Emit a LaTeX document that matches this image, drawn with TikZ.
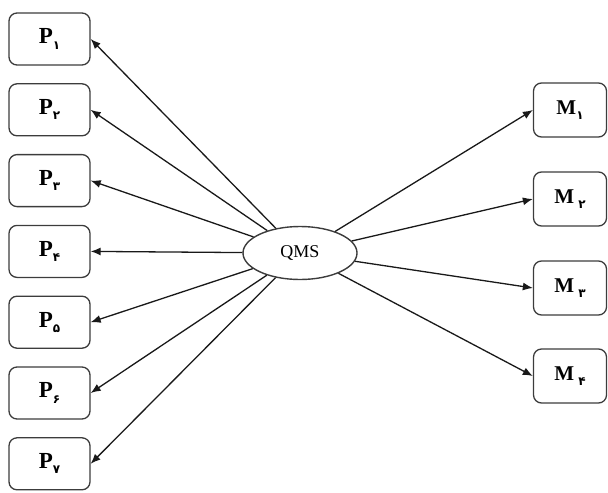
\documentclass[tikz,border=0pt]{standalone}
\usepackage{fontspec}
\setmainfont{Liberation Serif}
\newfontfamily\digitfont[Script=Arabic]{DejaVu Sans}
\usetikzlibrary{arrows.meta,shapes.geometric}
\definecolor{boxline}{HTML}{3C3C3C}
\tikzset{
  qms box/.style={draw=boxline,line width=.65pt,rounded corners=4pt,minimum width=40.5pt,minimum height=26pt,inner sep=1pt,font=\fontsize{11.5}{13}\selectfont\bfseries},
  qms core/.style={ellipse,draw=boxline,line width=.7pt,minimum width=57pt,minimum height=26.5pt,inner sep=0pt,font=\fontsize{9}{10}\selectfont},
  qms arrow/.style={black!90,line width=.65pt,-{Latex[length=5pt,width=4pt]}}
}
\newcommand{\fadig}[1]{\raisebox{-.5ex}{\digitfont\fontsize{6}{7}\selectfont #1}}

\begin{document}
\begin{tikzpicture}[x=.5pt,y=-.5pt]
  \useasboundingbox (0,0) rectangle (608,492);
  \node[qms core] (qms) at (300,253) {QMS};
  % left column
  \foreach \i/\d in {1/۱,2/۲,3/۳,4/۴,5/۵,6/۶,7/۷}{
    \node[qms box] (p\i) at (49.5,{39+70.8*(\i-1)}) {P\fadig{\d}};
    \draw[qms arrow] (qms) -- (p\i.east);
  }
  % right column
  \foreach \i/\s/\y in {1/۱/110,2/\ ۲/199,3/\ ۳/288,4/\ ۴/376}{
    \node[qms box,minimum width=36.5pt,minimum height=27pt,font=\fontsize{10.5}{12}\selectfont\bfseries] (m\i) at (570,\y) {M\fadig{\s}};
    \draw[qms arrow] (qms) -- (m\i.west);
  }
\end{tikzpicture}
\end{document}
